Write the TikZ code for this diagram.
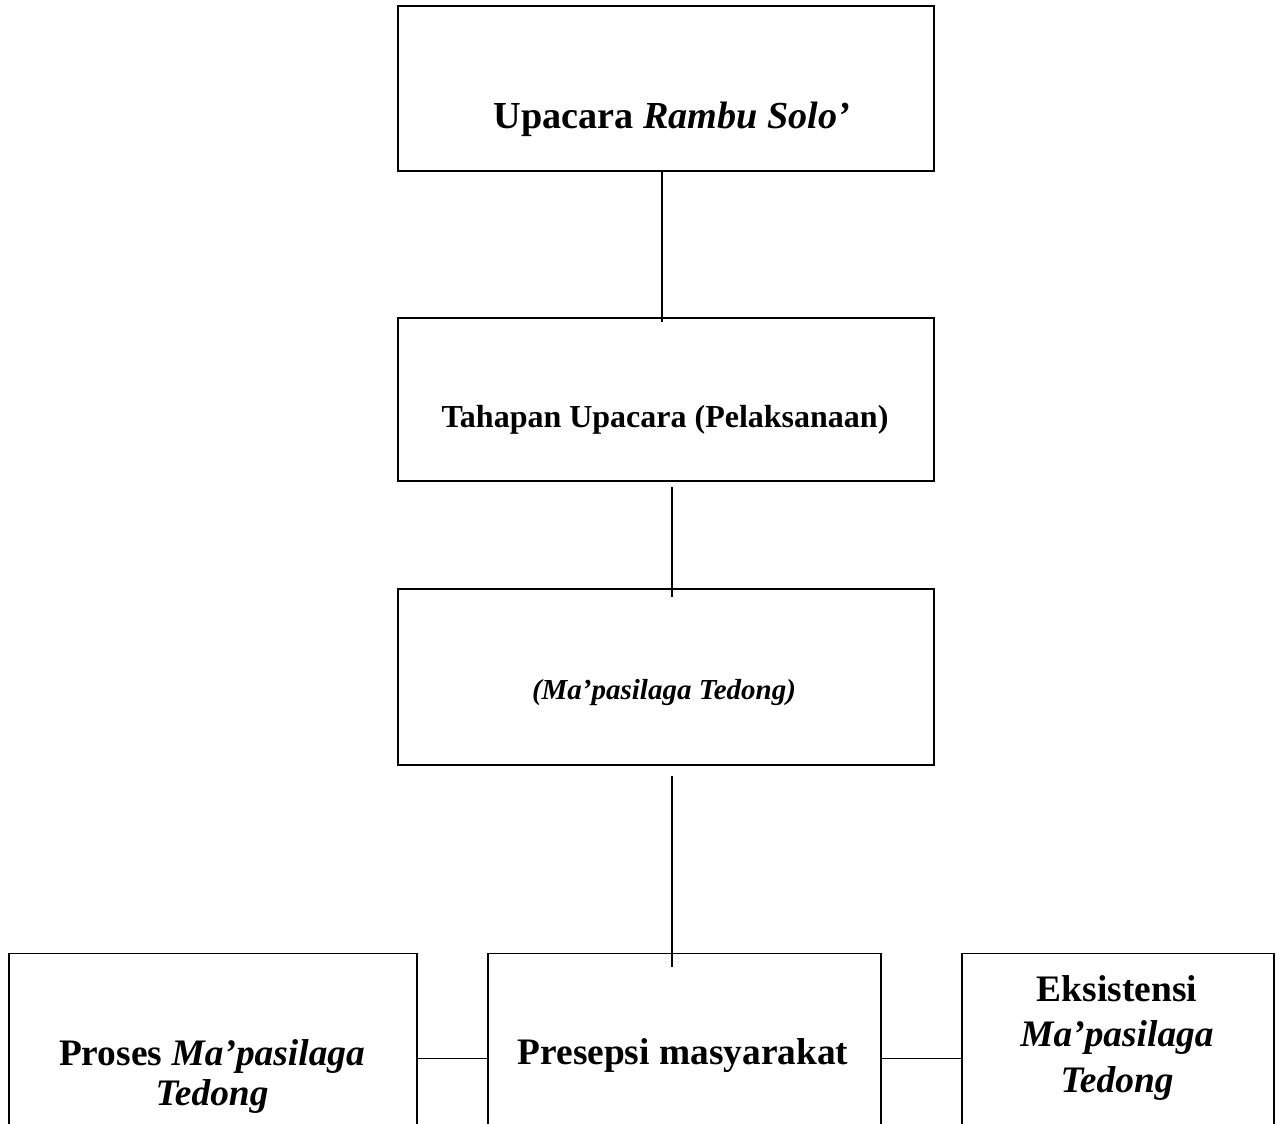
\documentclass[tikz,border=0pt]{standalone}
\usepackage{fontspec}
\setmainfont{Liberation Serif}
\usetikzlibrary{calc,positioning}

\begin{document}
\begin{tikzpicture}[x=0.5pt,y=-0.5pt,line width=0.9pt,node distance=1cm,
	box/.style={draw,rectangle,inner sep=0pt,minimum width=268pt},
	lowbox/.style={draw,rectangle,inner sep=0pt,minimum height=123pt},
	txt/.style={anchor=base,inner sep=0pt,align=center,font=\bfseries\fontsize{18.7}{20}\selectfont}]
		\useasboundingbox (0,0) rectangle (1282,1124);
		\clip (0,0) rectangle (1282,1124);
		% kotak utama
		\node[box,minimum height=82.5pt] (upacara) at (666,88.5) {};
		\node[box,minimum height=81.5pt,below=72.5pt of upacara] (tahapan) {};
		\node[box,minimum height=88pt,below=53pt of tahapan] (silaga) {};
		\node[lowbox,minimum width=196.5pt,below=93.5pt of silaga,xshift=9.25pt] (presepsi) {};
		\node[lowbox,minimum width=204pt,left=34.5pt of presepsi] (proses) {};
		\node[lowbox,minimum width=156pt,right=39.5pt of presepsi] (eksis) {};
		% teks
		\node[txt,font=\bfseries\fontsize{19.1}{22}\selectfont] (t_upacara) at (672,128) {Upacara \textit{Rambu Solo’}};
		\node[txt,font=\bfseries\fontsize{16}{18}\selectfont] (t_tahapan) at (665,427) {Tahapan Upacara (Pelaksanaan)};
		\node[txt,font=\bfseries\itshape\fontsize{14.5}{16}\selectfont] (t_silaga) at (664,699) {(Ma’pasilaga Tedong)};
		\node[txt] (t_presepsi) at (683,1064) {Presepsi masyarakat};
		\node[txt] (t_proses) at (212,1105) {Proses \textit{Ma’pasilaga}\\\textit{Tedong}};
		\node[txt,font=\bfseries\fontsize{18.7}{22.75}\selectfont] (t_eksis) at (1117,1092) {Eksistensi\\\textit{Ma’pasilaga}\\\textit{Tedong}};
		% garis
		\draw ($(upacara.south)+(-4,0)$) -- ($(tahapan.north)+(-4,5)$);
		\draw ($(tahapan.south)+(6,5)$) -- ($(silaga.north)+(6,9)$);
		\draw ($(silaga.south)+(6,10)$) -- ($(presepsi.north)+(-12.5,14)$);
		\draw ($(proses.north east)+(0,106)$) -- ($(presepsi.north west)+(0,106)$);
		\draw ($(presepsi.north east)+(0,106)$) -- ($(eksis.north west)+(0,106)$);
	\end{tikzpicture}
\end{document}
